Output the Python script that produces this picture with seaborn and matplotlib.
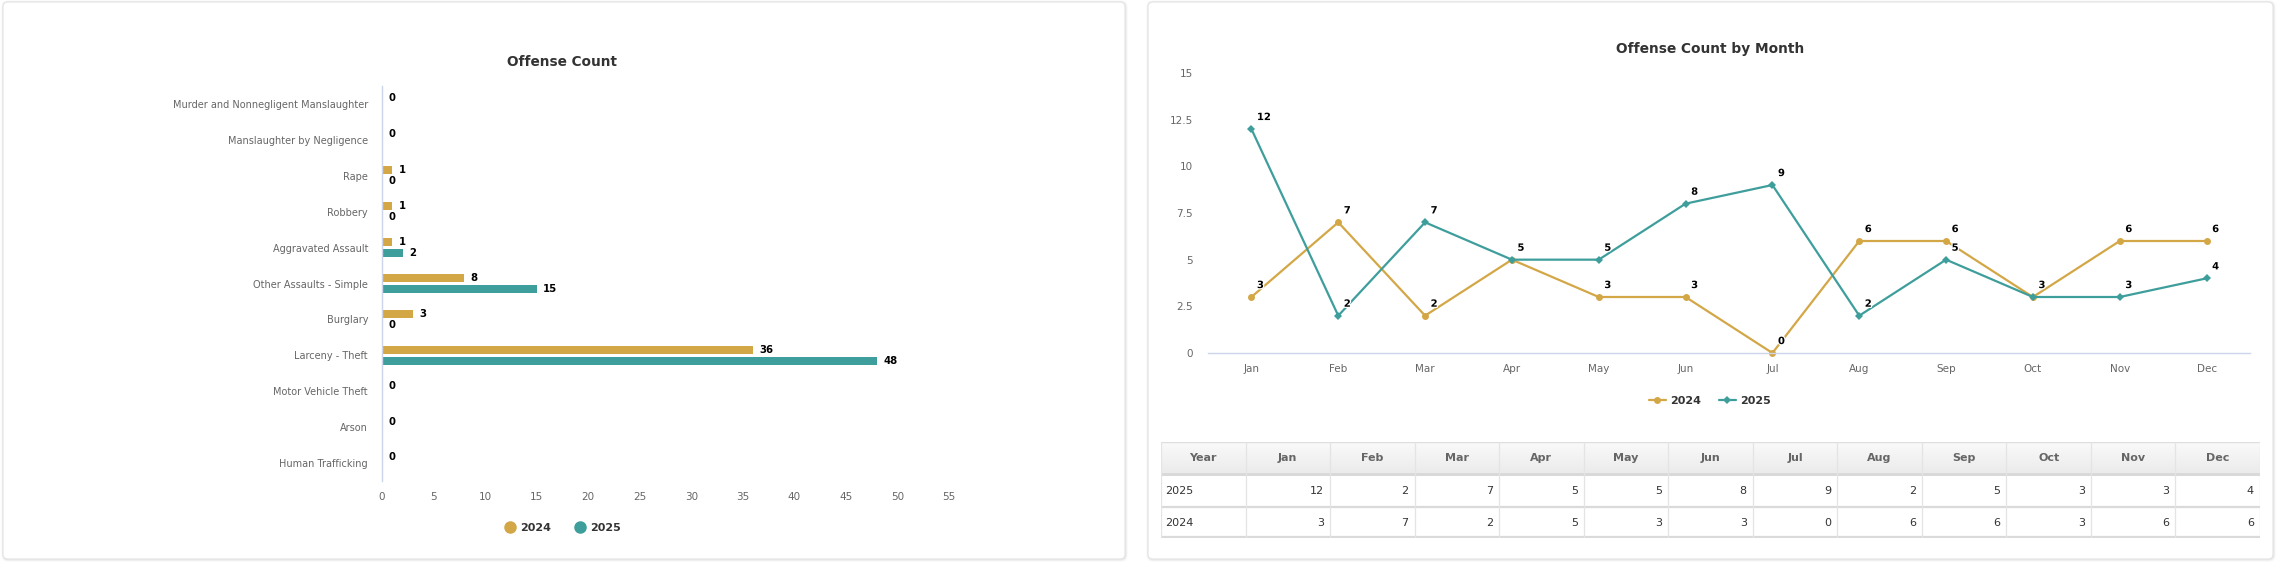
import numpy as np
import pandas as pd
import matplotlib
matplotlib.use("Agg")
import matplotlib.pyplot as plt
import seaborn as sns
from matplotlib.patches import FancyBboxPatch, Rectangle
from matplotlib.lines import Line2D
from matplotlib.transforms import IdentityTransform
import matplotlib.patheffects as pe

# ---------------- data ----------------
offenses = [
    "Murder and Nonnegligent Manslaughter",
    "Manslaughter by Negligence",
    "Rape",
    "Robbery",
    "Aggravated Assault",
    "Other Assaults - Simple",
    "Burglary",
    "Larceny - Theft",
    "Motor Vehicle Theft",
    "Arson",
    "Human Trafficking",
]
count_2024 = [0, 0, 1, 1, 1, 8, 3, 36, 0, 0, 0]
count_2025 = [0, 0, 0, 0, 2, 15, 0, 48, 0, 0, 0]

months = ["Jan", "Feb", "Mar", "Apr", "May", "Jun", "Jul", "Aug", "Sep", "Oct", "Nov", "Dec"]
monthly_2024 = [3, 7, 2, 5, 3, 3, 0, 6, 6, 3, 6, 6]
monthly_2025 = [12, 2, 7, 5, 5, 8, 9, 2, 5, 3, 3, 4]

years = ["2024", "2025"]
bar_xticks = [0, 5, 10, 15, 20, 25, 30, 35, 40, 45, 50, 55]
line_yticks = [0, 2.5, 5, 7.5, 10, 12.5, 15]
line_ytick_labels = ["0", "2.5", "5", "7.5", "10", "12.5", "15"]

titles = ["Offense Count", "Offense Count by Month"]
table_header = ["Year"] + months

# ---------------- style ----------------
GOLD = "#D3A746"
TEAL = "#3E9E9C"
palette = {"2024": GOLD, "2025": TEAL}
AXIS_C = "#ccd6eb"
TICK_C = "#666666"
TEXT_C = "#333333"

sns.set_theme(style="white")
plt.rcParams["font.family"] = ["DejaVu Sans"]

W, H = 2276, 567
fig = plt.figure(figsize=(W / 100, H / 100), dpi=100)
fig.patch.set_facecolor("white")


def axes_px(l, t, r, b):
    return fig.add_axes([l / W, 1 - b / H, (r - l) / W, (b - t) / H])


def card(x0, y0, x1, y1):
    for off, a in [(2.5, 0.035), (1.5, 0.05)]:
        sh = FancyBboxPatch((x0 - off + 1, H - y1 - off), (x1 - x0) + 2 * off - 1, (y1 - y0) + 2 * off - 1,
                            boxstyle="round,pad=0,rounding_size=6", transform=IdentityTransform(),
                            facecolor=(0, 0, 0, a), edgecolor="none", zorder=-3)
        fig.add_artist(sh)
    p = FancyBboxPatch((x0, H - y1), x1 - x0, y1 - y0, boxstyle="round,pad=0,rounding_size=5",
                       transform=IdentityTransform(), facecolor="white", edgecolor="#e4e4e4",
                       linewidth=0.8, zorder=-2)
    fig.add_artist(p)


card(3, 2, 1125, 559)
card(1148, 2, 2273, 559)

# ---------------- left: horizontal bar chart ----------------
bar_df = pd.DataFrame({
    "Offense": offenses * 2,
    "Count": count_2024 + count_2025,
    "Year": [years[0]] * len(offenses) + [years[1]] * len(offenses),
})

ax1 = axes_px(382, 86, 949, 481)
ax1.set_facecolor("none")
sns.barplot(data=bar_df, x="Count", y="Offense", hue="Year", hue_order=years, orient="h",
            palette=palette, width=0.62, gap=0.27, saturation=1, errorbar=None,
            linewidth=0, legend=False, ax=ax1)
ax1.set_xlim(0, 55)
ax1.set_ylim(len(offenses) - 0.5, -0.5)
ax1.set_xticks(bar_xticks)
ax1.set_xticklabels([str(t) for t in bar_xticks])
ax1.set_xlabel("")
ax1.set_ylabel("")
for s in ["top", "right", "bottom"]:
    ax1.spines[s].set_visible(False)
ax1.spines["left"].set_color(AXIS_C)
ax1.spines["left"].set_linewidth(1)
ax1.tick_params(axis="x", length=0, pad=8, labelsize=7.5, labelcolor=TICK_C)
ax1.tick_params(axis="y", which="major", length=0, pad=10, labelsize=7, labelcolor=TICK_C)
ax1.set_yticks(np.arange(-0.5, len(offenses), 1.0), minor=True)
ax1.tick_params(axis="y", which="minor", length=7.2, width=0.8, color=AXIS_C, direction="out")
ax1.grid(False)

for ci, cont in enumerate(ax1.containers):
    vals = count_2024 if ci == 0 else count_2025
    other = count_2025 if ci == 0 else count_2024
    labels = []
    for v, o in zip(vals, other):
        if ci == 1 and v == 0 and o == 0:
            labels.append("")
        else:
            labels.append(str(v))
    ax1.bar_label(cont, labels=labels, padding=4.5, fontsize=7.3, fontweight="bold", color="black")

fig.text(562 / W, 1 - 62 / H, titles[0], ha="center", va="center", fontsize=9.8,
         fontweight="bold", color=TEXT_C)

h_left = [Line2D([], [], linestyle="", marker="o", markersize=8, markerfacecolor=palette[y],
                 markeredgecolor=palette[y]) for y in years]
fig.legend(h_left, years, loc="center", bbox_to_anchor=(563 / W, 1 - 528 / H), ncol=2,
           frameon=False, handlelength=0.8, handletextpad=0.5, columnspacing=2.2,
           prop={"weight": "bold", "size": 8}, labelcolor=TEXT_C)

# ---------------- right: line chart ----------------
line_df = pd.DataFrame({
    "Month": months * 2,
    "MonthIdx": list(range(len(months))) * 2,
    "Count": monthly_2024 + monthly_2025,
    "Year": [years[0]] * len(months) + [years[1]] * len(months),
})

ax2 = axes_px(1208, 73, 2250, 353)
ax2.set_facecolor("none")
sns.lineplot(data=line_df, x="MonthIdx", y="Count", hue="Year", hue_order=years, style="Year",
             style_order=years, markers={"2024": "o", "2025": "D"}, dashes=False, palette=palette,
             linewidth=1.6, markeredgewidth=0, errorbar=None, legend=False, ax=ax2)
ax2.lines[0].set_markersize(5)
ax2.lines[1].set_markersize(3.8)
ax2.set_xlim(-0.5, len(months) - 0.5)
ax2.set_ylim(0, 15)
ax2.set_xticks(range(len(months)))
ax2.set_xticklabels(months)
ax2.set_xticks(np.arange(-0.5, len(months), 1.0), minor=True)
ax2.set_yticks(line_yticks)
ax2.set_yticklabels(line_ytick_labels)
ax2.set_xlabel("")
ax2.set_ylabel("")
for s in ["top", "right", "left"]:
    ax2.spines[s].set_visible(False)
ax2.spines["bottom"].set_color(AXIS_C)
ax2.spines["bottom"].set_linewidth(1)
ax2.tick_params(axis="x", which="major", length=0, pad=8, labelsize=7.5, labelcolor=TICK_C)
ax2.tick_params(axis="x", which="minor", length=7.2, width=0.8, color=AXIS_C, direction="out")
ax2.tick_params(axis="y", length=0, pad=11, labelsize=7.5, labelcolor=TICK_C)
ax2.grid(False)
for ln in ax2.lines:
    ln.set_clip_on(False)

stroke = [pe.withStroke(linewidth=1.8, foreground="white")]
for i in range(len(months)):
    for yi, series in enumerate([monthly_2024, monthly_2025]):
        v = series[i]
        if yi == 1 and v == monthly_2024[i]:
            continue
        ax2.annotate(str(v), (i, v), xytext=(4, 8.6), textcoords="offset points", ha="left",
                     va="center", fontsize=7.2, fontweight="bold", color="black",
                     path_effects=stroke, annotation_clip=False)

fig.text(1710 / W, 1 - 49 / H, titles[1], ha="center", va="center", fontsize=9.9,
         fontweight="bold", color=TEXT_C)

h_right = [Line2D([], [], color=palette[y], linewidth=1.6, marker=m, markersize=ms,
                  markeredgewidth=0) for y, m, ms in zip(years, ["o", "D"], [5, 3.8])]
fig.legend(h_right, years, loc="center", bbox_to_anchor=(1710 / W, 1 - 401 / H), ncol=2,
           frameon=False, handlelength=1.5, handletextpad=0.4, columnspacing=1.6,
           prop={"weight": "bold", "size": 8}, labelcolor=TEXT_C)

# ---------------- right: data table ----------------
T_L, T_T, T_R, T_B = 1161, 442, 2260, 538
ax3 = axes_px(T_L, T_T, T_R, T_B)
ncol = len(table_header)
cw = (T_R - T_L) / ncol
hdr_h = 31
row_tops = [34, 65]
row_h = 31

grad = np.linspace(0, 1, 50).reshape(-1, 1)
ax3.imshow(grad, extent=(0, T_R - T_L, hdr_h, 0), cmap=matplotlib.colors.LinearSegmentedColormap.from_list(
    "hdr", ["#fafafa", "#ebebeb"]), aspect="auto", zorder=0)
ax3.set_xlim(0, T_R - T_L)
ax3.set_ylim(T_B - T_T, 0)
ax3.axis("off")
ax3.add_patch(Rectangle((0, hdr_h), T_R - T_L, 3, facecolor="#d9d9d9", edgecolor="none", zorder=1))
ax3.plot([0, T_R - T_L], [0, 0], color="#dedede", lw=1, zorder=2)
for yy in [row_tops[1], T_B - T_T - 1]:
    ax3.plot([0, T_R - T_L], [yy, yy], color="#dadada", lw=1.6, zorder=2)
for c in range(ncol + 1):
    xx = c * cw
    ax3.plot([xx, xx], [0, T_B - T_T - 1], color="#e4e4e4", lw=0.9, zorder=2)

for c, txt in enumerate(table_header):
    ax3.text((c + 0.5) * cw, hdr_h / 2 + 0.5, txt, ha="center", va="center", fontsize=8,
             fontweight="bold", color=TICK_C, zorder=3)

table_rows = [(years[1], monthly_2025), (years[0], monthly_2024)]
for r, (yr, vals) in enumerate(table_rows):
    yc = row_tops[r] + row_h / 2
    ax3.text(4, yc, yr, ha="left", va="center", fontsize=8, color=TEXT_C, zorder=3)
    for c, v in enumerate(vals):
        ax3.text((c + 2) * cw - 6, yc, str(v), ha="right", va="center", fontsize=8,
                 color=TEXT_C, zorder=3)

fig.savefig("out.png", dpi=100, facecolor="white")
